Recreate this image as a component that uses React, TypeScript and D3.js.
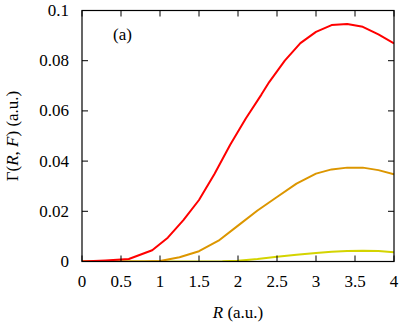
import React from "react";
import * as d3 from "d3";

const redR = [0, 0.3, 0.6, 0.9, 1.1, 1.3, 1.5, 1.7, 1.9, 2.1, 2.3, 2.4, 2.6, 2.8, 3.0, 3.2, 3.4, 3.6, 3.8, 4.0];
const redG = [0, 0.0004, 0.001, 0.0045, 0.0095, 0.0165, 0.0245, 0.035, 0.0465, 0.057, 0.0665, 0.0715, 0.080, 0.087, 0.0915, 0.0942, 0.0946, 0.0935, 0.0905, 0.0869];

const orangeR = [0, 0.5, 0.8, 1.0, 1.25, 1.5, 1.75, 2.0, 2.25, 2.5, 2.75, 3.0, 3.2, 3.4, 3.6, 3.8, 4.0];
const orangeG = [0, 0.00002, 0.00005, 0.0002, 0.0017, 0.0041, 0.0083, 0.0143, 0.0203, 0.0257, 0.031, 0.035, 0.0367, 0.0374, 0.0374, 0.0364, 0.0347];

const yellowR = [0, 1.0, 1.5, 1.8, 2.0, 2.25, 2.5, 2.75, 3.0, 3.2, 3.4, 3.6, 3.8, 4.0];
const yellowG = [0, 0, 0.00003, 0.0001, 0.0003, 0.001, 0.0019, 0.0027, 0.0034, 0.0039, 0.0042, 0.0043, 0.0042, 0.0037];

const xTicks = [0, 0.5, 1, 1.5, 2, 2.5, 3, 3.5, 4];
const xTickLabels = ["0", "0.5", "1", "1.5", "2", "2.5", "3", "3.5", "4"];
const yTicks = [0, 0.02, 0.04, 0.06, 0.08, 0.1];
const yTickLabels = ["0", "0.02", "0.04", "0.06", "0.08", "0.1"];

const W = 406, H = 325;
const L = 82, R = 394, T = 10.5, B = 261.5;

export default function App() {
  const x = d3.scaleLinear().domain([0, 4]).range([L, R]);
  const y = d3.scaleLinear().domain([0, 0.1]).range([B, T]);
  const line = d3.line<[number, number]>().x(d => x(d[0])).y(d => y(d[1]));
  const series = [
    { r: yellowR, g: yellowG, color: "#d4d400" },
    { r: orangeR, g: orangeG, color: "#dc9600" },
    { r: redR, g: redG, color: "#ff0000" },
  ];
  const tl = 6;
  const ts = { fontSize: "17px" };
  const tsi = { fontSize: "17px", fontStyle: "italic" as const };
  return (
    <svg width={W} height={H} style={{ position: "absolute", left: 0, top: 0, background: "#fff" }}>
      <defs>
        <clipPath id="plot"><rect x={L} y={T} width={R - L} height={B - T} /></clipPath>
      </defs>
      <g clipPath="url(#plot)">
        {series.map((s, i) => (
          <path key={i} d={line(s.r.map((r, j) => [r, s.g[j]] as [number, number])) || ""}
            fill="none" stroke={s.color} strokeWidth={2} strokeLinejoin="round" />
        ))}
      </g>
      {xTicks.map((t, i) => (
        <g key={"x" + i}>
          <line x1={x(t)} x2={x(t)} y1={B} y2={B - tl} stroke="#000" strokeWidth={1} />
          <line x1={x(t)} x2={x(t)} y1={T} y2={T + tl} stroke="#000" strokeWidth={1} />
          <text x={x(t)} y={287} textAnchor="middle" style={ts}>{xTickLabels[i]}</text>
        </g>
      ))}
      {yTicks.map((t, i) => (
        <g key={"y" + i}>
          <line x1={L} x2={L + tl} y1={y(t)} y2={y(t)} stroke="#000" strokeWidth={1} />
          <line x1={R} x2={R - tl} y1={y(t)} y2={y(t)} stroke="#000" strokeWidth={1} />
          <text x={69} y={y(t) + 5.5} textAnchor="end" style={ts}>{yTickLabels[i]}</text>
        </g>
      ))}
      <rect x={L} y={T} width={R - L} height={B - T} fill="none" stroke="#000" strokeWidth={1.2} />
      <text x={113} y={40} style={ts}>(a)</text>
      <text x={238} y={318} textAnchor="middle" style={ts}>
        <tspan style={tsi}>R</tspan> (a.u.)
      </text>
      <text transform={`translate(18, ${(T + B) / 2}) rotate(-90)`} textAnchor="middle" style={ts}>
        Γ(<tspan style={tsi}>R</tspan>, <tspan style={tsi}>F</tspan>) (a.u.)
      </text>
    </svg>
  );
}
